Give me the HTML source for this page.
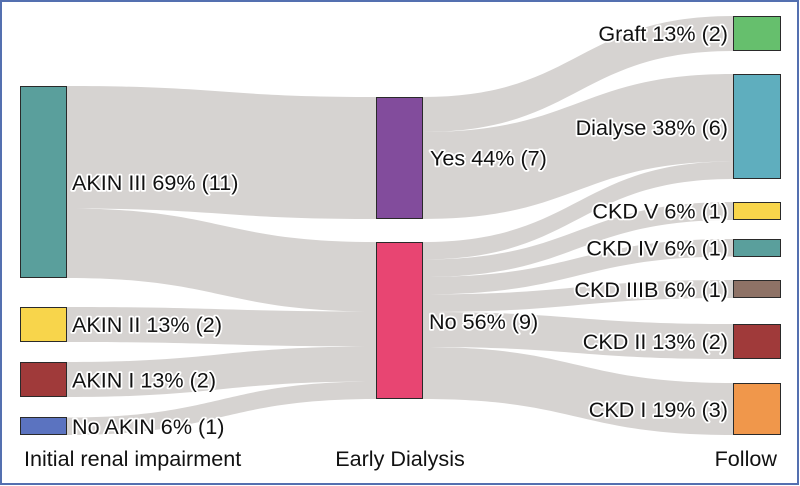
<!DOCTYPE html>
<html><head><meta charset="utf-8"><style>
html,body{margin:0;padding:0;background:#fff;}
svg{display:block;}
text{font-family:"Liberation Sans",Arial,sans-serif;font-size:21.6px;fill:#111;}
.h{stroke:#fff;stroke-width:3.5px;paint-order:stroke;stroke-linejoin:round;}
</style></head><body>
<svg width="800" height="486" viewBox="0 0 800 486" xmlns="http://www.w3.org/2000/svg">
<rect x="0" y="0" width="800" height="486" fill="#fff"/>
<g fill="#d6d3d1">
<path d="M67,86 C221.5,86 221.5,97 376,97 L376,219 C221.5,219 221.5,208.5 67,208.5 Z"/>
<path d="M67,208.5 C221.5,208.5 221.5,242 376,242 L376,311.5 C221.5,311.5 221.5,278 67,278 Z"/>
<path d="M67,307 C221.5,307 221.5,311.5 376,311.5 L376,346.5 C221.5,346.5 221.5,342 67,342 Z"/>
<path d="M67,362 C221.5,362 221.5,346.5 376,346.5 L376,381.5 C221.5,381.5 221.5,397 67,397 Z"/>
<path d="M67,417.5 C221.5,417.5 221.5,381.5 376,381.5 L376,399 C221.5,399 221.5,435 67,435 Z"/>
<path d="M423,97 C578,97 578,16 733,16 L733,51 C578,51 578,132 423,132 Z"/>
<path d="M423,132 C578,132 578,74 733,74 L733,161.5 C578,161.5 578,219 423,219 Z"/>
<path d="M423,242 C578,242 578,161.5 733,161.5 L733,179 C578,179 578,259.5 423,259.5 Z"/>
<path d="M423,259.5 C578,259.5 578,202 733,202 L733,220 C578,220 578,277 423,277 Z"/>
<path d="M423,277 C578,277 578,239 733,239 L733,256.5 C578,256.5 578,294.5 423,294.5 Z"/>
<path d="M423,294.5 C578,294.5 578,280 733,280 L733,298 C578,298 578,312 423,312 Z"/>
<path d="M423,312 C578,312 578,324 733,324 L733,359 C578,359 578,347 423,347 Z"/>
<path d="M423,347 C578,347 578,383 733,383 L733,435 C578,435 578,399 423,399 Z"/>
</g>
<g stroke="#2a2a2a" stroke-width="1">
<rect x="20.5" y="86.5" width="46" height="191" fill="#5a9f9c"/>
<rect x="20.5" y="307.5" width="46" height="34" fill="#f8d54b"/>
<rect x="20.5" y="362.5" width="46" height="34" fill="#a03a3a"/>
<rect x="20.5" y="417.5" width="46" height="17" fill="#5b73c0"/>
<rect x="376.5" y="97.5" width="46" height="121" fill="#824c9c"/>
<rect x="376.5" y="242.5" width="46" height="156" fill="#e84572"/>
<rect x="733.5" y="16.5" width="47" height="34" fill="#66bf6d"/>
<rect x="733.5" y="74.5" width="47" height="104" fill="#5faebe"/>
<rect x="733.5" y="202.5" width="47" height="17" fill="#f8d54b"/>
<rect x="733.5" y="239.5" width="47" height="17" fill="#5a9f9c"/>
<rect x="733.5" y="280.5" width="47" height="17" fill="#8e7266"/>
<rect x="733.5" y="324.5" width="47" height="34" fill="#a03a3a"/>
<rect x="733.5" y="383.5" width="47" height="51" fill="#f0974b"/>
</g>
<g class="h">
<text x="72" y="190">AKIN III 69% (11)</text>
<text x="72" y="332">AKIN II 13% (2)</text>
<text x="72" y="387.5">AKIN I 13% (2)</text>
<text x="72" y="434">No AKIN 6% (1)</text>
<text x="430" y="165.5">Yes 44% (7)</text>
<text x="429" y="329">No 56% (9)</text>
</g>
<g class="h" text-anchor="end">
<text x="728" y="41">Graft 13% (2)</text>
<text x="728" y="135">Dialyse 38% (6)</text>
<text x="728" y="218.5">CKD V 6% (1)</text>
<text x="728" y="255.5">CKD IV 6% (1)</text>
<text x="728" y="297">CKD IIIB 6% (1)</text>
<text x="728" y="349">CKD II 13% (2)</text>
<text x="728" y="417">CKD I 19% (3)</text>
</g>
<text x="24" y="466">Initial renal impairment</text>
<text x="400" y="466" text-anchor="middle">Early Dialysis</text>
<text x="777" y="466" text-anchor="end">Follow</text>
<rect x="1" y="1" width="797" height="483" fill="none" stroke="#5470b0" stroke-width="2"/>
</svg>
</body></html>
